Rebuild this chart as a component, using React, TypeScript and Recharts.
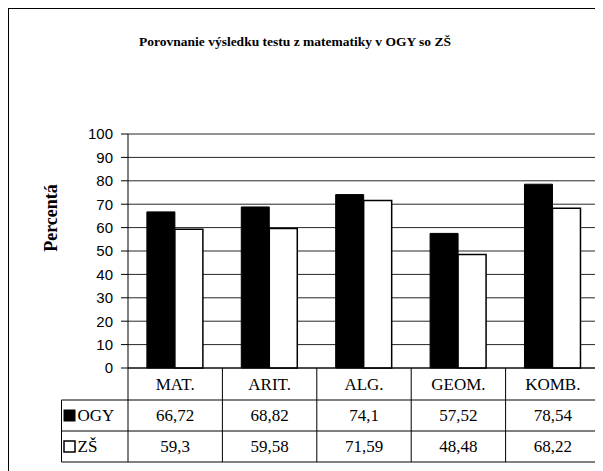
import { BarChart, Bar, XAxis, YAxis, CartesianGrid } from "recharts";

// ─── Data ─────────────────────────────────────────────────────────────────────

const categories = ["MAT.", "ARIT.", "ALG.", "GEOM.", "KOMB."];
const ogyValues = [66.72, 68.82, 74.1, 57.52, 78.54];
const zsValues = [59.3, 59.58, 71.59, 48.48, 68.22];
const yTicks = [0, 10, 20, 30, 40, 50, 60, 70, 80, 90, 100];

const seriesNames = ["OGY", "ZŠ"];

const data = categories.map((cat, i) => ({
  cat,
  ogy: ogyValues[i],
  zs: zsValues[i],
}));

// ─── Layout ───────────────────────────────────────────────────────────────────

const W = 595;
const H = 460;
const PLOT_LEFT = 119;
const PLOT_RIGHT = 591;
const BAND = (PLOT_RIGHT - PLOT_LEFT) / categories.length;
const TABLE_LEFT = 52.5;
const ROWS = [0, 32, 63, 94];

const serif = "'Liberation Serif', 'Times New Roman', serif";
const sans = "'Liberation Sans', Arial, sans-serif";

const fmt = (v: number) => String(v).replace(".", ",");

// ─── Table tick (category + data rows) ────────────────────────────────────────

function TableTick({ x, y, payload, index }: any) {
  const i = payload?.index ?? index;
  const left = x - BAND / 2;
  const rowMid = (r: number) => y + (ROWS[r] + ROWS[r + 1]) / 2;
  const txt = { fontFamily: serif, fontSize: 17, fill: "#000" };
  return (
    <g>
      <line x1={left} y1={y} x2={left} y2={y + ROWS[3]} stroke="#000" />
      {i === categories.length - 1 && (
        <line x1={left + BAND} y1={y} x2={left + BAND} y2={y + ROWS[3]} stroke="#000" />
      )}
      {i === 0 && (
        <g>
          {[1, 2, 3].map((r) => (
            <line key={r} x1={TABLE_LEFT} y1={y + ROWS[r]} x2={PLOT_RIGHT} y2={y + ROWS[r]} stroke="#000" />
          ))}
          <line x1={TABLE_LEFT} y1={y + ROWS[1]} x2={TABLE_LEFT} y2={y + ROWS[3]} stroke="#000" />
          <rect x={TABLE_LEFT + 2} y={rowMid(1) - 6} width={12} height={12} fill="#000" />
          <rect x={TABLE_LEFT + 2.5} y={rowMid(2) - 5.5} width={11} height={11} fill="#fff" stroke="#000" strokeWidth={1.5} />
          <text x={TABLE_LEFT + 16} y={rowMid(1)} dy="0.35em" {...txt}>
            {seriesNames[0]}
          </text>
          <text x={TABLE_LEFT + 16} y={rowMid(2)} dy="0.35em" {...txt}>
            {seriesNames[1]}
          </text>
        </g>
      )}
      <text x={x} y={rowMid(0)} dy="0.35em" textAnchor="middle" {...txt}>
        {payload.value}
      </text>
      <text x={x} y={rowMid(1)} dy="0.35em" textAnchor="middle" {...txt}>
        {fmt(ogyValues[i])}
      </text>
      <text x={x} y={rowMid(2)} dy="0.35em" textAnchor="middle" {...txt}>
        {fmt(zsValues[i])}
      </text>
    </g>
  );
}

// ─── Component ────────────────────────────────────────────────────────────────

export default function App() {
  return (
    <div
      style={{
        position: "relative",
        width: 600,
        height: 470,
        border: "1px solid #000",
        background: "#fff",
      }}
    >
      <div
        style={{
          position: "absolute",
          left: 130,
          top: 25,
          whiteSpace: "nowrap",
          fontFamily: serif,
          fontWeight: "bold",
          fontSize: 13.5,
          color: "#000",
        }}
      >
        Porovnanie výsledku testu z matematiky v OGY so ZŠ
      </div>
      <BarChart
        width={W}
        height={H}
        data={data}
        margin={{ top: 125, right: 0, left: 0, bottom: 0 }}
        barCategoryGap="20%"
        barGap={0}
      >
        <CartesianGrid vertical={false} stroke="#000" strokeOpacity={0.85} />
        <XAxis
          dataKey="cat"
          height={101}
          interval={0}
          tickLine={false}
          tickSize={0}
          tickMargin={0}
          axisLine={{ stroke: "#000" }}
          tick={<TableTick />}
        />
        <YAxis
          width={PLOT_LEFT}
          domain={[0, 100]}
          ticks={yTicks}
          interval={0}
          tickSize={7}
          tickMargin={8}
          axisLine={{ stroke: "#000" }}
          tickLine={{ stroke: "#000" }}
          tick={{ fill: "#000", fontFamily: sans, fontSize: 15 }}
          label={{
            content: () => (
              <text
                x={42}
                y={209}
                dy="0.35em"
                transform="rotate(-90 42 209)"
                textAnchor="middle"
                fontFamily={serif}
                fontWeight="bold"
                fontSize={18}
                fill="#000"
              >
                Percentá
              </text>
            ),
          }}
        />
        <YAxis
          yAxisId="r"
          orientation="right"
          width={4}
          domain={[0, 100]}
          tick={false}
          tickLine={false}
          axisLine={{ stroke: "#808080" }}
        />
        <Bar dataKey="ogy" name="OGY" fill="#000" stroke="#000" isAnimationActive={false} />
        <Bar dataKey="zs" name="ZŠ" fill="#fff" stroke="#000" strokeWidth={1.5} isAnimationActive={false} />
      </BarChart>
    </div>
  );
}
